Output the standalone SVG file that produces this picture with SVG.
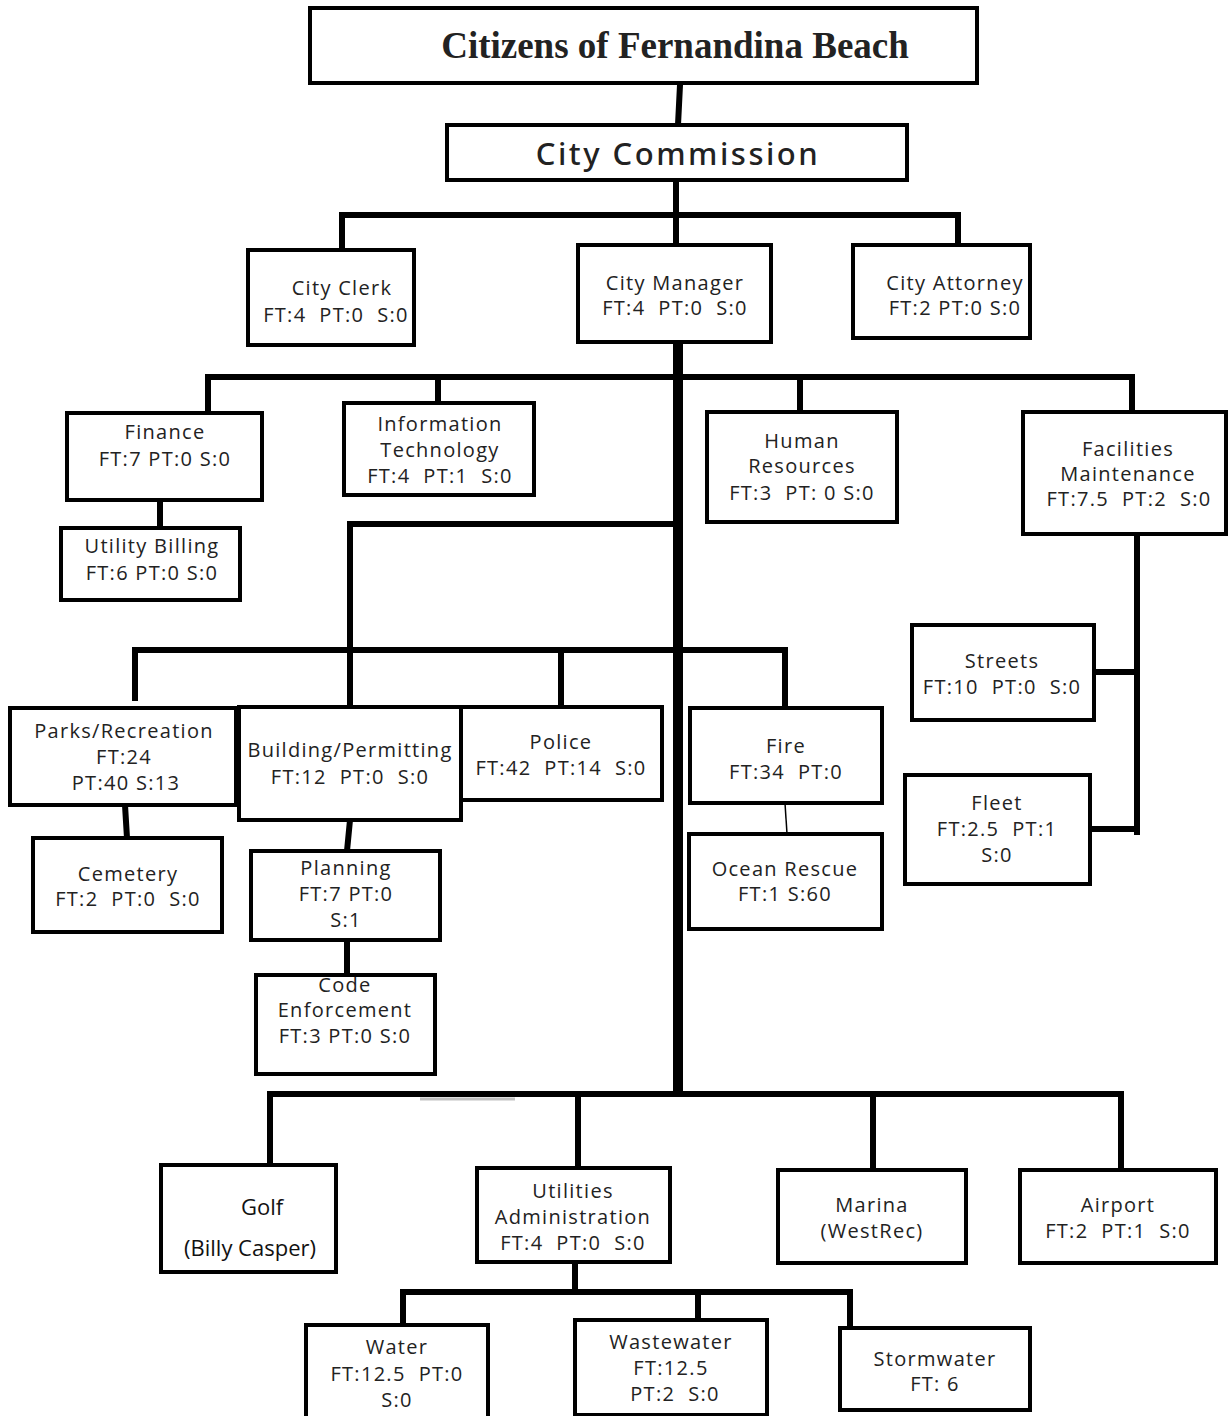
<svg xmlns="http://www.w3.org/2000/svg" width="1229" height="1416" viewBox="0 0 1229 1416">
<style>
.b{fill:#fff;stroke:#000;stroke-width:4}
.t{font-family:"Open Sans","Liberation Sans",sans-serif;font-size:20px;fill:#222;text-anchor:middle;letter-spacing:1.3px}
.g{font-family:"Open Sans","Liberation Sans",sans-serif;font-size:22px;fill:#111;text-anchor:middle}
.c{fill:none;stroke:#000;stroke-width:6;stroke-linecap:square}
</style>
<rect width="1229" height="1416" fill="#fff"/>
<g id="connectors">
<path class="c" d="M680,85 L678,125" stroke-width="5"/>
<path class="c" d="M676,180 V215 M342,215 H958 M342,215 V250 M676,215 V245 M958,215 V245"/>
<path class="c" d="M208,377 H1132 M208,377 V413 M438,377 V403 M800,377 V412 M1132,377 V413"/>
<path class="c" d="M160,500 V528"/>
<path class="c" d="M1137,534 V832 M1091,672 H1132 M1090,829 H1137" stroke-width="5"/>
<path class="c" d="M350,524 H678 M350,524 V707"/>
<path class="c" d="M135,650 H785 M135,650 V698 M561,650 V707 M785,650 V708"/>
<path class="c" d="M125,805 L127,838 M350,820 L347,851 M347,940 V975"/>
<path d="M785,803 L787,834" stroke="#000" stroke-width="1.5"/>
<path d="M420,1099 H515" stroke="#999" stroke-width="3" opacity="0.6"/>
<path class="c" d="M270,1094 H1121 M270,1094 V1165 M578,1094 V1168 M873,1094 V1170 M1121,1094 V1170"/>
<path class="c" d="M575,1262 V1292 M403,1292 H850 M403,1292 V1325 M698,1292 V1320 M850,1292 V1328"/>
<path d="M678,342 V1094" stroke="#000" stroke-width="10" fill="none"/>
</g>
<g id="citizens"><rect class="b" x="310" y="8" width="667" height="75"/>
<text x="675" y="58" text-anchor="middle" font-family="Liberation Serif,serif" font-weight="bold" font-size="37" fill="#222">Citizens of Fernandina Beach</text></g>
<g id="commission"><rect class="b" x="447" y="125" width="460" height="55"/>
<text x="678" y="165" text-anchor="middle" font-family="Noto Sans,sans-serif" font-weight="500" font-size="31" letter-spacing="2.5" fill="#222">City Commission</text></g>
<g id="clerk"><rect class="b" x="248" y="250" width="166" height="95"/>
<text class="t" x="342" y="295">City Clerk</text><text class="t" x="336" y="322" xml:space="preserve">FT:4  PT:0  S:0</text></g>
<g id="manager"><rect class="b" x="578" y="245" width="193" height="97"/>
<text class="t" x="675" y="290">City Manager</text><text class="t" x="675" y="315" xml:space="preserve">FT:4  PT:0  S:0</text></g>
<g id="attorney"><rect class="b" x="853" y="245" width="177" height="93"/>
<text class="t" x="955" y="290">City Attorney</text><text class="t" x="955" y="315">FT:2 PT:0 S:0</text></g>
<g id="finance"><rect class="b" x="67" y="413" width="195" height="87"/>
<text class="t" x="165" y="439">Finance</text><text class="t" x="165" y="466">FT:7 PT:0 S:0</text></g>
<g id="billing"><rect class="b" x="61" y="528" width="179" height="72"/>
<text class="t" x="152" y="553">Utility Billing</text><text class="t" x="152" y="580">FT:6 PT:0 S:0</text></g>
<g id="it"><rect class="b" x="344" y="403" width="190" height="92"/>
<text class="t" x="440" y="431">Information</text><text class="t" x="440" y="457">Technology</text><text class="t" x="440" y="483" xml:space="preserve">FT:4  PT:1  S:0</text></g>
<g id="hr"><rect class="b" x="707" y="412" width="190" height="110"/>
<text class="t" x="802" y="448">Human</text><text class="t" x="802" y="473">Resources</text><text class="t" x="802" y="500" xml:space="preserve">FT:3  PT: 0 S:0</text></g>
<g id="facilities"><rect class="b" x="1023" y="412" width="203" height="122"/>
<text class="t" x="1128" y="456">Facilities</text><text class="t" x="1128" y="481">Maintenance</text><text class="t" x="1129" y="506" xml:space="preserve">FT:7.5  PT:2  S:0</text></g>
<g id="streets"><rect class="b" x="912" y="625" width="182" height="95"/>
<text class="t" x="1002" y="668">Streets</text><text class="t" x="1002" y="694" xml:space="preserve">FT:10  PT:0  S:0</text></g>
<g id="fleet"><rect class="b" x="905" y="775" width="185" height="109"/>
<text class="t" x="997" y="810">Fleet</text><text class="t" x="997" y="836" xml:space="preserve">FT:2.5  PT:1</text><text class="t" x="997" y="862">S:0</text></g>
<g id="parks"><rect class="b" x="10" y="708" width="226" height="97"/>
<text class="t" x="124" y="738">Parks/Recreation</text><text class="t" x="124" y="764">FT:24</text><text class="t" x="126" y="790">PT:40 S:13</text></g>
<g id="cemetery"><rect class="b" x="33" y="838" width="189" height="94"/>
<text class="t" x="128" y="881">Cemetery</text><text class="t" x="128" y="906" xml:space="preserve">FT:2  PT:0  S:0</text></g>
<g id="building"><rect class="b" x="239" y="707" width="222" height="113"/>
<text class="t" x="350" y="757">Building/Permitting</text><text class="t" x="350" y="784" xml:space="preserve">FT:12  PT:0  S:0</text></g>
<g id="planning"><rect class="b" x="251" y="851" width="189" height="89"/>
<text class="t" x="346" y="875">Planning</text><text class="t" x="346" y="901">FT:7 PT:0</text><text class="t" x="346" y="927">S:1</text></g>
<g id="code"><rect class="b" x="256" y="975" width="179" height="99"/>
<text class="t" x="345" y="992">Code</text><text class="t" x="345" y="1017">Enforcement</text><text class="t" x="345" y="1043">FT:3 PT:0 S:0</text></g>
<g id="police"><rect class="b" x="461" y="707" width="201" height="93"/>
<text class="t" x="561" y="749">Police</text><text class="t" x="561" y="775" xml:space="preserve">FT:42  PT:14  S:0</text></g>
<g id="fire"><rect class="b" x="690" y="708" width="192" height="95"/>
<text class="t" x="786" y="753">Fire</text><text class="t" x="786" y="779" xml:space="preserve">FT:34  PT:0</text></g>
<g id="ocean"><rect class="b" x="689" y="834" width="193" height="95"/>
<text class="t" x="785" y="876">Ocean Rescue</text><text class="t" x="785" y="901">FT:1 S:60</text></g>
<g id="golf"><rect class="b" x="161" y="1165" width="175" height="107"/>
<text class="g" x="262" y="1215">Golf</text><text class="g" x="250" y="1256">(Billy Casper)</text></g>
<g id="utilities"><rect class="b" x="477" y="1168" width="193" height="94"/>
<text class="t" x="573" y="1198">Utilities</text><text class="t" x="573" y="1224">Administration</text><text class="t" x="573" y="1250" xml:space="preserve">FT:4  PT:0  S:0</text></g>
<g id="marina"><rect class="b" x="778" y="1170" width="188" height="93"/>
<text class="t" x="872" y="1212">Marina</text><text class="t" x="872" y="1238">(WestRec)</text></g>
<g id="airport"><rect class="b" x="1020" y="1170" width="196" height="93"/>
<text class="t" x="1118" y="1212">Airport</text><text class="t" x="1118" y="1238" xml:space="preserve">FT:2  PT:1  S:0</text></g>
<g id="water"><rect class="b" x="306" y="1325" width="182" height="100"/>
<text class="t" x="397" y="1354">Water</text><text class="t" x="397" y="1381" xml:space="preserve">FT:12.5  PT:0</text><text class="t" x="397" y="1407">S:0</text></g>
<g id="wastewater"><rect class="b" x="575" y="1320" width="192" height="95"/>
<text class="t" x="671" y="1349">Wastewater</text><text class="t" x="671" y="1375">FT:12.5</text><text class="t" x="675" y="1401" xml:space="preserve">PT:2  S:0</text></g>
<g id="stormwater"><rect class="b" x="840" y="1328" width="190" height="82"/>
<text class="t" x="935" y="1366">Stormwater</text><text class="t" x="935" y="1391">FT: 6</text></g>
</svg>
